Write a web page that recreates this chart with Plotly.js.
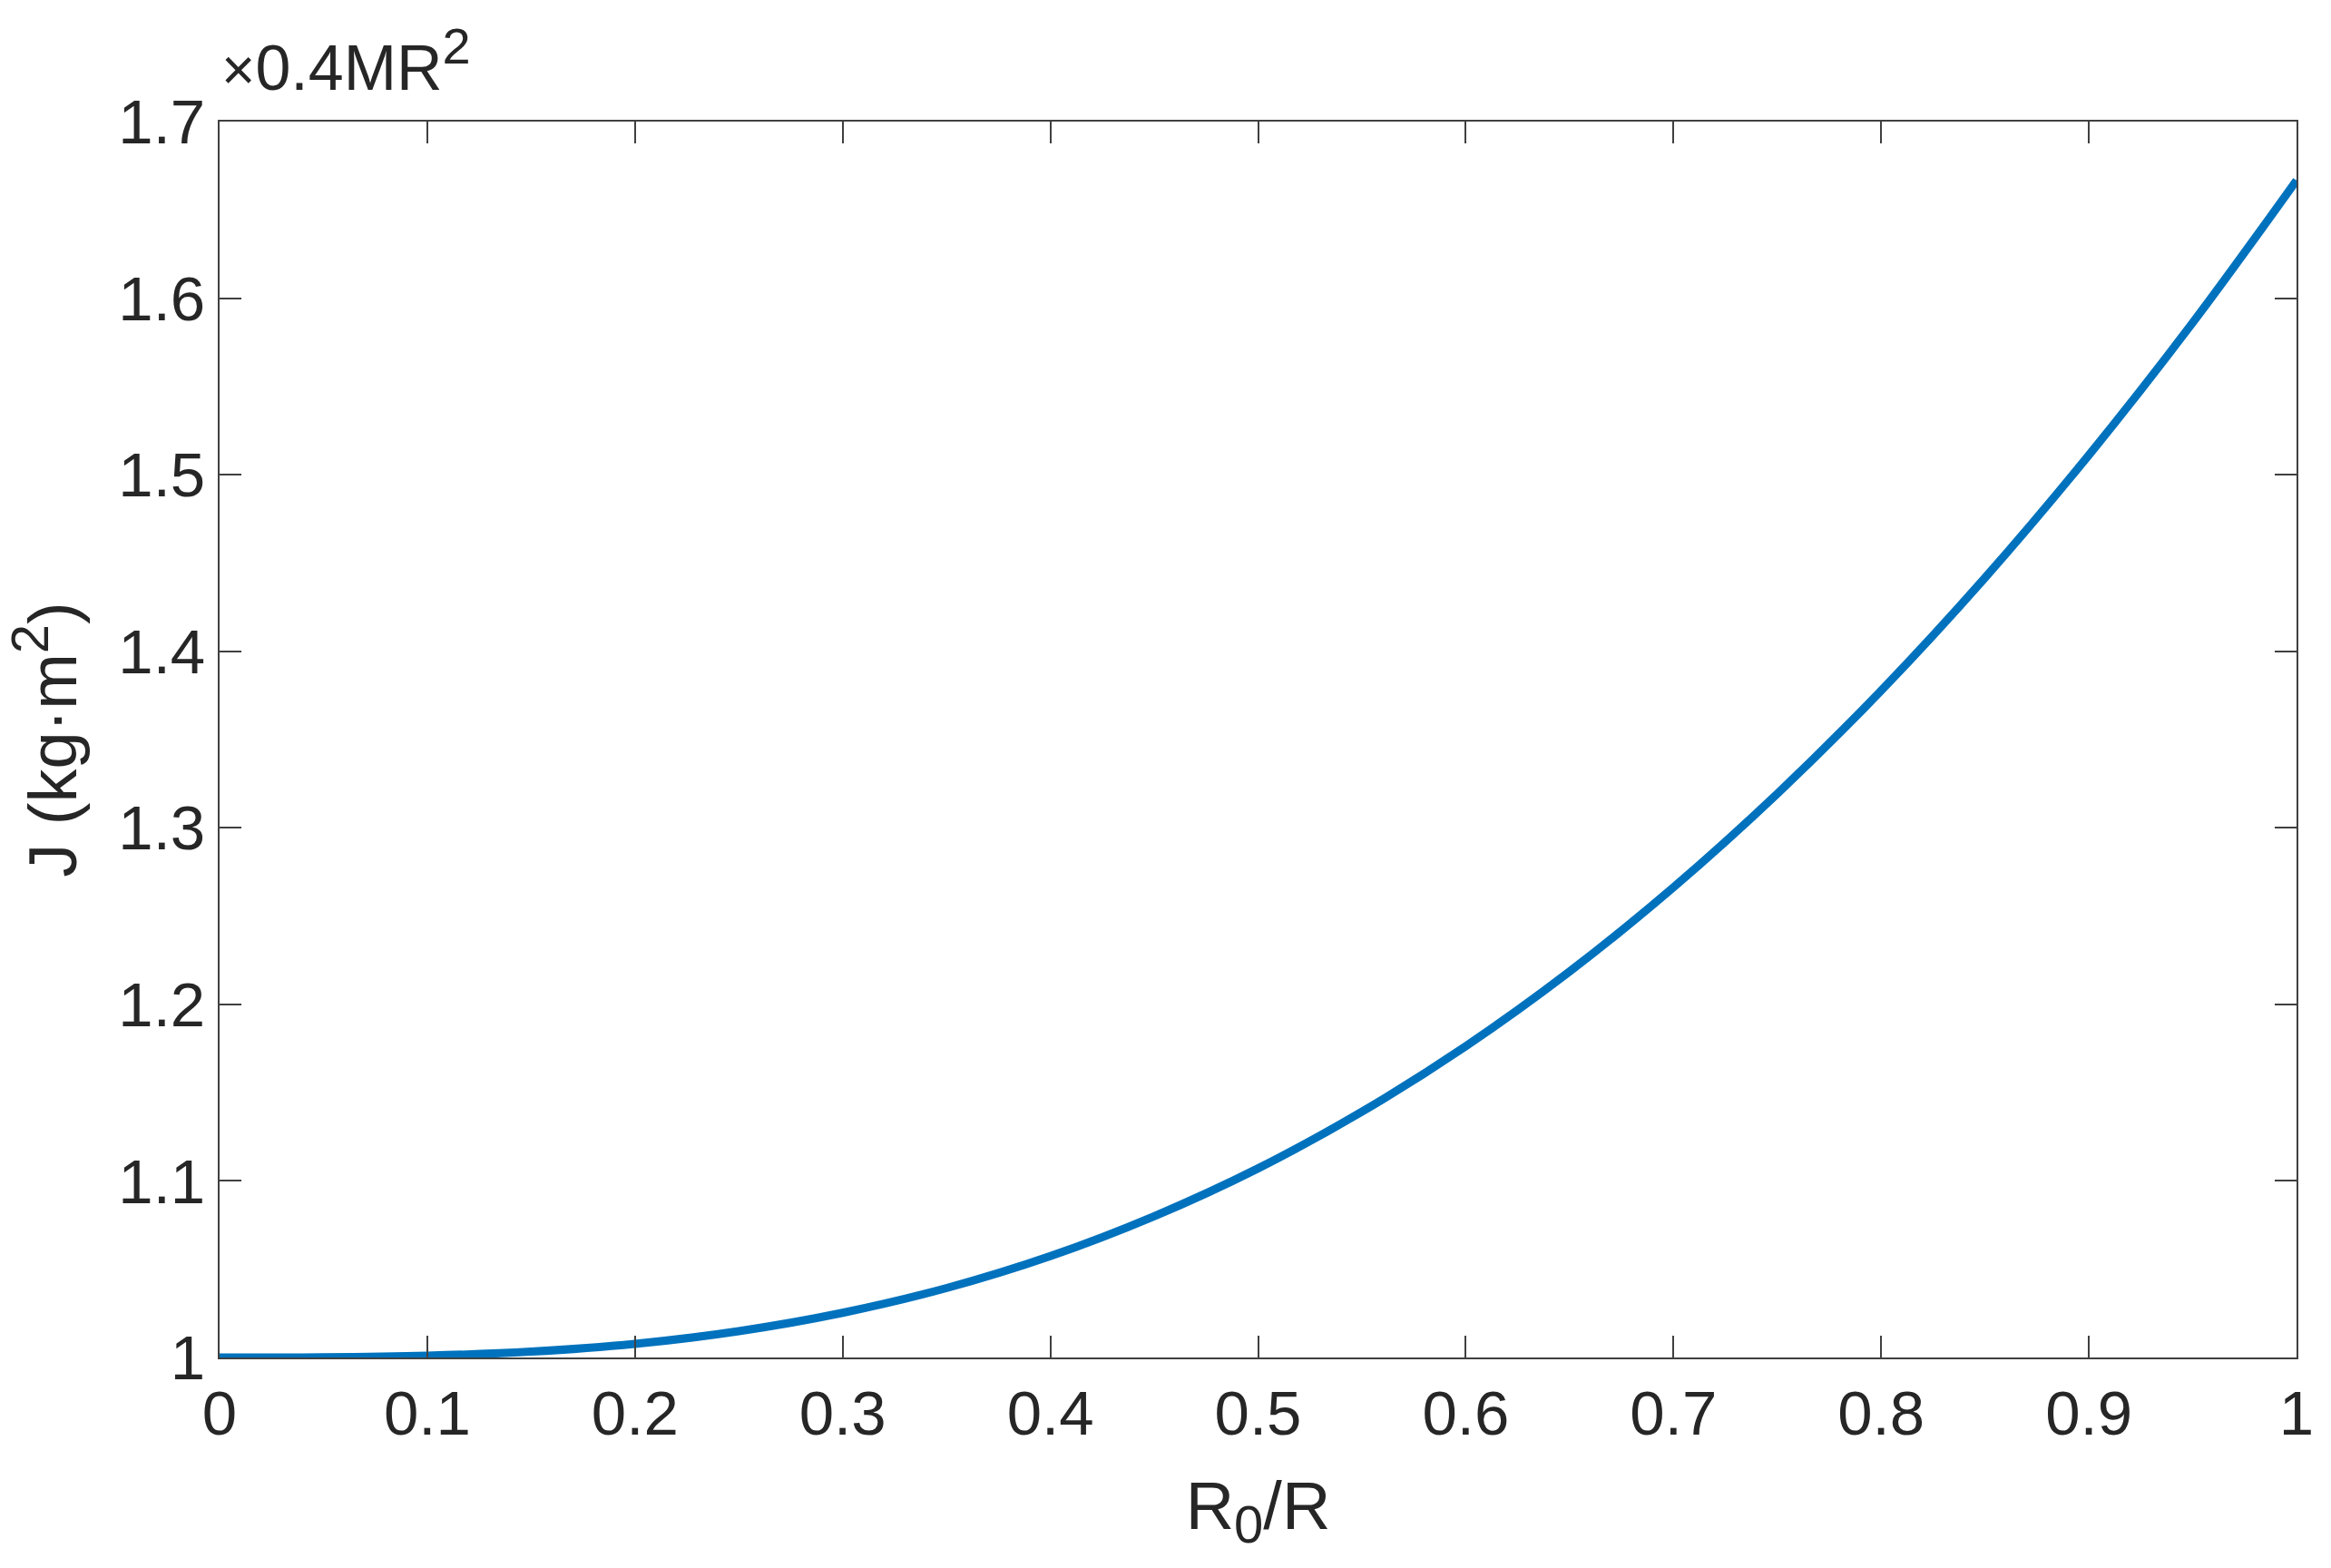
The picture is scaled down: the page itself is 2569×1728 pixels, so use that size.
<!DOCTYPE html>
<html>
<head>
<meta charset="utf-8">
<script src="https://cdn.plot.ly/plotly-3.0.1.min.js"></script>
<style>html,body{margin:0;padding:0;background:#fff;}#chart{width:2569px;height:1728px;}</style>
</head>
<body>
<div id="chart"></div>
<script>
// Ratio R0/R
const ratio = [0, 0.05, 0.1, 0.15, 0.2, 0.25, 0.3, 0.35, 0.4, 0.45, 0.5, 0.55, 0.6, 0.65, 0.7, 0.75, 0.8, 0.85, 0.9, 0.95, 1.0];
// J in units of 0.4MR^2
const inertia = [1.000, 1.0001, 1.001, 1.0033, 1.0077, 1.0149, 1.0253, 1.0393, 1.0574, 1.080, 1.1071, 1.1392, 1.1763, 1.2186, 1.2663, 1.3193, 1.3777, 1.4416, 1.5111, 1.5861, 1.6667];
const xTicks = [0, 0.1, 0.2, 0.3, 0.4, 0.5, 0.6, 0.7, 0.8, 0.9, 1];
const xTickText = ['0', '0.1', '0.2', '0.3', '0.4', '0.5', '0.6', '0.7', '0.8', '0.9', '1'];
const yTicks = [1, 1.1, 1.2, 1.3, 1.4, 1.5, 1.6, 1.7];
const yTickText = ['1', '1.1', '1.2', '1.3', '1.4', '1.5', '1.6', '1.7'];

const fontFam = '"Liberation Sans", Arial, sans-serif';
const txt = '#262626';
const axCol = '#404040';

const trace = {
  x: ratio, y: inertia, type: 'scatter', mode: 'lines',
  line: {color: '#0072BD', width: 9, shape: 'spline'},
  hoverinfo: 'skip'
};

const axisCommon = {
  showgrid: false, zeroline: false, showline: true, mirror: 'ticks',
  linecolor: axCol, linewidth: 2, ticks: 'inside', ticklen: 24, tickwidth: 2,
  tickcolor: axCol, tickfont: {family: fontFam, size: 69, color: txt},
  automargin: false, tickmode: 'array'
};

const layout = {
  width: 2569, height: 1728,
  paper_bgcolor: '#fff', plot_bgcolor: '#fff',
  margin: {l: 242, r: 38, t: 134, b: 232},
  showlegend: false,
  font: {family: fontFam, color: txt, size: 69},
  xaxis: Object.assign({}, axisCommon, {
    range: [0, 1], tickvals: xTicks, ticktext: xTickText,
    title: {text: 'R<sub><span style="font-size:58px">0</span></sub>/R', font: {family: fontFam, size: 74, color: txt}, standoff: 38}
  }),
  yaxis: Object.assign({}, axisCommon, {
    range: [1, 1.7], tickvals: yTicks, ticktext: yTickText,
    title: {text: 'J (kg·m<sup><span style="font-size:58px">2</span></sup>)', font: {family: fontFam, size: 74, color: txt}, standoff: 22}
  }),
  annotations: [{
    xref: 'paper', yref: 'paper', x: 0, y: 1, xanchor: 'left', yanchor: 'bottom',
    yshift: 18, showarrow: false,
    text: '<span style="font-size:64px">×</span>0.4MR<sup><span style="font-size:56px">2</span></sup>',
    font: {family: fontFam, size: 70, color: txt}
  }]
};

Plotly.newPlot('chart', [trace], layout, {staticPlot: true, displayModeBar: false});
</script>
</body>
</html>
